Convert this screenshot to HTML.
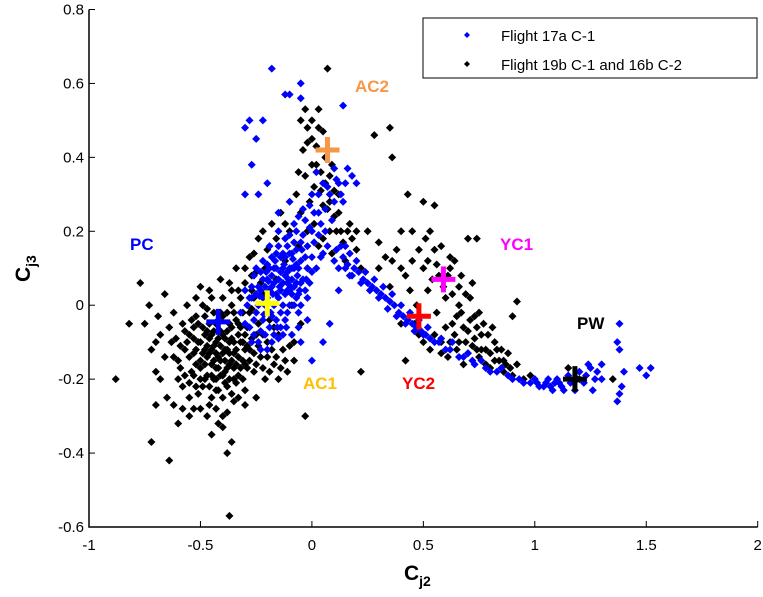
<!DOCTYPE html>
<html><head><meta charset="utf-8"><style>
body{margin:0;background:#fff;}
svg{display:block;font-family:"Liberation Sans",sans-serif;}
</style></head><body>
<svg id="chart" width="763" height="597" viewBox="0 0 763 597">
<g id="axes"></g>
<g id="marks"></g>
<g id="centers"></g>
<g id="labels"></g>
<g>
<rect x="423" y="18" width="334" height="60" fill="#fff" stroke="#000" stroke-width="1"/>
<path d="M467 32 l3 3 l-3 3 l-3 -3z" fill="#0000ff"/>
<text x="501" y="41" font-size="15">Flight 17a C-1</text>
<path d="M467 61 l3 3 l-3 3 l-3 -3z" fill="#000"/>
<text x="501" y="70" font-size="15">Flight 19b C-1 and 16b C-2</text>
</g>
<text x="404" y="580" font-size="21" font-weight="bold">C<tspan font-size="14" dy="6">j2</tspan></text>
<g transform="translate(30,282) rotate(-90)"><text x="0" y="0" font-size="21" font-weight="bold">C<tspan font-size="14" dy="6">j3</tspan></text></g>
</svg>
<script>
const xTicks=[-1,-0.5,0,0.5,1,1.5,2];
const xTickLabels=["-1","-0.5","0","0.5","1","1.5","2"];
const yTicks=[-0.6,-0.4,-0.2,0,0.2,0.4,0.6,0.8];
const yTickLabels=["-0.6","-0.4","-0.2","0","0.2","0.4","0.6","0.8"];
const blackPts=[[-0.75,-0.05],[-0.72,-0.12],[-0.7,-0.18],[-0.68,-0.08],[-0.66,0.03],[-0.65,-0.25],[-0.63,-0.1],[-0.62,-0.02],[-0.6,-0.15],[-0.6,-0.2],[-0.58,-0.05],[-0.57,-0.12],[-0.56,0.0],[-0.55,-0.25],[-0.55,-0.08],[-0.54,-0.18],[-0.53,-0.13],[-0.52,-0.03],[-0.52,-0.22],[-0.51,-0.1],[-0.5,-0.15],[-0.5,0.05],[-0.49,-0.06],[-0.48,-0.2],[-0.48,-0.12],[-0.47,-0.01],[-0.46,-0.27],[-0.46,-0.09],[-0.45,-0.16],[-0.45,0.02],[-0.44,-0.11],[-0.43,-0.23],[-0.43,-0.05],[-0.42,-0.14],[-0.41,0.07],[-0.41,-0.19],[-0.4,-0.08],[-0.4,-0.3],[-0.39,-0.12],[-0.38,-0.02],[-0.38,-0.22],[-0.37,-0.16],[-0.36,0.04],[-0.36,-0.09],[-0.35,-0.26],[-0.35,-0.13],[-0.34,0.1],[-0.34,-0.04],[-0.33,-0.19],[-0.32,-0.1],[-0.32,0.02],[-0.31,-0.15],[-0.3,0.06],[-0.3,-0.23],[-0.29,-0.06],[-0.28,0.13],[-0.28,-0.12],[-0.27,-0.01],[-0.26,-0.18],[-0.25,0.09],[-0.25,-0.08],[-0.24,0.18],[-0.23,-0.14],[-0.22,0.03],[-0.21,-0.2],[-0.2,-0.1],[-0.2,0.15],[-0.19,-0.04],[-0.18,0.22],[-0.17,-0.16],[-0.16,0.07],[-0.15,-0.08],[-0.14,0.25],[-0.13,-0.12],[-0.12,0.12],[-0.11,-0.18],[-0.1,0.2],[-0.09,0.0],[-0.08,-0.1],[-0.07,0.3],[-0.06,0.16],[-0.05,-0.05],[-0.04,0.42],[-0.03,0.35],[-0.02,0.1],[-0.01,0.28],[0.0,0.45],[0.01,0.22],[0.02,0.38],[0.03,0.48],[0.04,0.31],[0.05,0.18],[0.06,0.4],[0.07,0.26],[0.08,0.35],[0.09,0.14],[0.1,0.24],[0.12,0.3],[0.13,0.2],[0.15,0.12],[0.17,0.22],[0.2,0.15],[0.22,0.1],[0.25,0.2],
[-0.88,-0.2],[-0.82,-0.05],[-0.77,0.06],[-0.72,-0.37],[-0.7,-0.27],[-0.64,-0.42],[-0.37,-0.57],[-0.36,-0.37],[-0.38,-0.4],[-0.4,-0.33],[-0.5,-0.28],[-0.55,-0.3],[-0.6,-0.32],[-0.3,-0.27],[-0.25,-0.25],[-0.15,-0.2],[-0.03,-0.3],[0.07,0.64],[-0.03,0.53],[-0.05,0.5],[0.28,0.46],[0.35,0.48],[0.36,0.4],[0.22,-0.18],[0.42,-0.15],[0.43,0.3],[0.5,0.28],[0.55,0.27],[0.92,0.01],[0.9,-0.03],[0.4,0.2],[0.45,0.2],[0.3,0.17],
[-0.62,-0.14],[-0.58,-0.22],[-0.56,-0.1],[-0.53,-0.06],[-0.5,-0.2],[-0.47,-0.14],[-0.44,-0.2],[-0.42,-0.09],[-0.39,-0.18],[-0.37,-0.05],[-0.35,-0.2],[-0.33,-0.08],[-0.31,-0.02],[-0.29,-0.17],[-0.27,0.04],[-0.4,-0.25],[-0.45,-0.25],[-0.48,-0.03],[-0.52,-0.16],[-0.36,0.0],[-0.3,-0.12],[-0.43,-0.17],[-0.47,-0.07],[-0.41,-0.02],[-0.34,-0.16],
[-0.64,-0.06],[-0.61,-0.09],[-0.59,-0.11],[-0.59,-0.17],[-0.57,-0.19],[-0.57,-0.07],[-0.55,-0.14],[-0.55,-0.21],[-0.54,-0.04],[-0.53,-0.09],[-0.53,-0.19],[-0.52,-0.12],[-0.51,-0.24],[-0.51,-0.05],[-0.5,-0.1],[-0.5,-0.17],[-0.49,-0.13],[-0.49,-0.22],[-0.49,0.0],[-0.48,-0.08],[-0.48,-0.16],[-0.47,-0.11],[-0.47,-0.19],[-0.46,-0.05],[-0.46,-0.13],[-0.46,-0.22],[-0.45,-0.08],[-0.45,-0.12],[-0.45,-0.19],[-0.44,-0.02],[-0.44,-0.15],[-0.44,-0.07],[-0.43,-0.1],[-0.43,-0.2],[-0.43,-0.13],[-0.42,-0.17],[-0.42,-0.04],[-0.42,-0.23],[-0.41,-0.11],[-0.41,-0.15],[-0.41,-0.07],[-0.4,-0.13],[-0.4,-0.19],[-0.4,-0.03],[-0.39,-0.09],[-0.39,-0.15],[-0.39,-0.21],[-0.38,-0.12],[-0.38,-0.07],[-0.38,-0.17],[-0.37,-0.1],[-0.37,-0.2],[-0.37,-0.13],[-0.36,-0.15],[-0.36,-0.06],[-0.36,-0.24],[-0.35,-0.1],[-0.35,-0.02],[-0.35,-0.17],[-0.34,-0.12],[-0.34,-0.21],[-0.33,-0.05],[-0.33,-0.14],[-0.32,-0.17],[-0.32,-0.06],[-0.31,-0.1],[-0.31,-0.2],[-0.3,-0.08],[-0.3,-0.16],[-0.29,-0.11],[-0.28,-0.02],[-0.28,-0.15],[-0.27,-0.09],[-0.27,0.08],[-0.26,-0.13],[-0.26,0.02],[-0.25,-0.16],[-0.24,-0.05],[-0.24,-0.11],[-0.23,0.06],[-0.22,-0.17],[-0.22,-0.08],[-0.21,0.1],[-0.2,-0.14],[-0.19,-0.18],[-0.18,-0.12],[-0.17,-0.06],[-0.16,-0.14],[-0.14,-0.17],[-0.12,-0.15],[-0.1,-0.11],[-0.08,-0.15],[-0.66,-0.14],[-0.68,-0.2],[-0.69,-0.03],[-0.7,-0.1],[-0.73,0.0],[-0.62,-0.27],[-0.58,-0.28],[-0.53,-0.28],[-0.47,-0.3],[-0.43,-0.28],[-0.38,-0.29],[-0.33,-0.25],[-0.42,-0.32],[-0.45,-0.35],[-0.52,0.02],[-0.46,0.04],[-0.4,0.02],[-0.37,0.06],[-0.33,0.04],[-0.3,0.1],[-0.26,0.14],[-0.22,0.2],[-0.16,0.18],[-0.12,0.22],
[-0.06,0.36],[-0.02,0.44],[0.0,0.38],[0.01,0.32],[0.02,0.43],[0.04,0.36],[0.05,0.27],[0.06,0.33],[0.08,0.28],[0.09,0.38],[0.1,0.31],[0.11,0.2],[0.12,0.25],[0.14,0.17],[0.16,0.2],[0.18,0.18],[0.2,0.2],[0.08,0.2],[0.03,0.16],[-0.02,0.2],[-0.05,0.25],[0.0,0.5],[0.05,0.47],[-0.02,0.48],[0.03,0.53],
[0.3,0.1],[0.35,0.05],[0.38,0.15],[0.4,-0.05],[0.42,0.08],[0.45,0.12],[0.47,0.0],[0.48,-0.08],[0.5,0.1],[0.52,0.04],[0.53,-0.12],[0.55,0.15],[0.56,-0.02],[0.57,0.08],[0.58,-0.1],[0.6,0.02],[0.61,-0.14],[0.62,0.1],[0.63,-0.05],[0.65,-0.12],[0.66,0.05],[0.67,-0.02],[0.68,-0.16],[0.7,-0.07],[0.71,0.02],[0.72,-0.11],[0.73,-0.03],[0.75,-0.14],[0.76,-0.08],[0.78,-0.12],[0.8,-0.17],[0.82,-0.1],[0.84,-0.15],[0.86,-0.18],[0.88,-0.13],[0.9,-0.19],[0.92,-0.16],[0.95,-0.2],[0.98,-0.19],[1.15,-0.17],[1.2,-0.2],[1.35,-0.2],[0.58,0.16],[0.62,0.13],[0.7,0.18],[0.74,0.18],[0.64,-0.08],[0.69,-0.1],[0.74,-0.06],[0.6,-0.06],[0.66,0.0],
[0.52,0.12],[0.54,0.07],[0.56,0.11],[0.59,0.05],[0.61,0.08],[0.63,0.03],[0.64,0.12],[0.65,-0.03],[0.67,0.08],[0.68,-0.06],[0.69,0.03],[0.7,-0.13],[0.71,-0.04],[0.72,0.06],[0.73,-0.09],[0.74,-0.12],[0.75,-0.02],[0.76,-0.12],[0.77,-0.05],[0.78,-0.16],[0.79,-0.08],[0.8,-0.13],[0.81,-0.06],[0.82,-0.15],[0.83,-0.12],[0.85,-0.12],[0.86,-0.15],[0.87,-0.16],[0.89,-0.17],[0.66,-0.1],[0.62,-0.1],[0.58,-0.13],[0.55,-0.08],[0.5,-0.1],[0.46,-0.05],[0.44,0.04],[0.4,0.1],[0.36,0.12],[0.33,0.13],[0.48,0.15],[0.51,0.18],[0.53,0.2]];
const bluePts=[[-0.3,-0.05],[-0.28,0.02],[-0.27,-0.1],[-0.26,0.08],[-0.25,-0.02],[-0.24,0.05],[-0.23,-0.07],[-0.22,0.12],[-0.21,0.0],[-0.2,-0.12],[-0.2,0.07],[-0.19,0.16],[-0.18,-0.03],[-0.17,0.1],[-0.16,0.03],[-0.15,-0.09],[-0.15,0.2],[-0.14,0.13],[-0.13,0.06],[-0.12,-0.04],[-0.12,0.18],[-0.11,0.09],[-0.1,0.0],[-0.1,0.14],[-0.09,-0.08],[-0.08,0.05],[-0.08,0.22],[-0.07,0.11],[-0.06,-0.02],[-0.05,0.17],[-0.05,0.06],[-0.04,0.26],[-0.03,0.13],[-0.02,0.02],[-0.01,0.21],[0.0,0.3],[0.0,0.09],[0.01,0.17],[0.02,0.36],[0.03,0.25],[0.04,0.13],[0.05,0.33],[0.06,0.2],[0.08,0.3],[0.1,0.37],[0.12,0.33],[0.14,0.28],[0.18,0.35],[0.2,0.33],
[-0.3,0.48],[-0.28,0.5],[-0.25,0.45],[-0.22,0.5],[-0.27,0.38],[-0.24,0.3],[-0.2,0.33],[-0.3,0.3],[-0.18,0.64],[-0.12,0.57],[-0.1,0.57],[-0.05,0.6],[-0.05,0.56],[0.14,0.54],[-0.15,0.25],[-0.1,0.28],
[-0.26,-0.04],[-0.22,0.02],[-0.18,0.05],[-0.14,-0.02],[-0.11,0.04],[-0.07,0.02],[-0.17,-0.08],[-0.13,0.1],[-0.09,0.1],[-0.19,0.1],[-0.23,0.09],[-0.16,0.14],
[-0.29,0.0],[-0.28,-0.06],[-0.27,0.05],[-0.26,-0.08],[-0.25,0.03],[-0.24,-0.1],[-0.24,0.0],[-0.23,0.04],[-0.22,-0.04],[-0.22,0.07],[-0.21,0.05],[-0.21,-0.08],[-0.2,0.02],[-0.2,0.11],[-0.19,-0.06],[-0.19,0.04],[-0.18,0.08],[-0.18,0.13],[-0.17,0.0],[-0.17,0.06],[-0.16,-0.04],[-0.16,0.1],[-0.15,0.02],[-0.15,0.07],[-0.15,0.16],[-0.14,-0.06],[-0.14,0.04],[-0.14,0.09],[-0.13,0.0],[-0.13,0.14],[-0.12,0.03],[-0.12,0.08],[-0.12,0.13],[-0.11,-0.02],[-0.11,0.06],[-0.11,0.16],[-0.1,0.04],[-0.1,0.1],[-0.1,0.19],[-0.09,0.03],[-0.09,0.07],[-0.09,0.14],[-0.08,0.0],[-0.08,0.1],[-0.08,0.17],[-0.07,0.06],[-0.07,0.15],[-0.07,0.2],[-0.06,0.03],[-0.06,0.1],[-0.06,0.24],[-0.05,0.0],[-0.05,0.12],[-0.04,0.07],[-0.04,0.19],[-0.03,0.04],[-0.03,0.23],[-0.02,0.1],[-0.02,0.16],[-0.01,0.06],[-0.01,0.27],[0.0,0.13],[0.0,0.2],[0.01,0.25],[0.02,0.1],[0.03,0.19],[0.03,0.3],[0.04,0.22],[0.05,0.14],[0.06,0.26],[0.07,0.32],[0.07,0.16],[0.09,0.23],[0.1,0.28],[0.11,0.34],[0.13,0.3],[0.15,0.33],[0.16,0.37],[-0.27,0.02],[-0.3,0.04],[-0.32,-0.02],[-0.25,0.1],[-0.23,-0.12],[-0.18,-0.1],[-0.13,-0.08],[-0.06,-0.06],[-0.02,-0.04],
[-0.235,0.025],[-0.215,-0.025],[-0.195,0.065],[-0.175,0.03],[-0.165,0.12],[-0.145,0.05],[-0.125,0.11],[-0.105,0.07],[-0.085,0.125],[-0.065,0.08],[-0.045,0.15],[-0.025,0.07],[-0.205,0.09],[-0.185,-0.02],[-0.155,-0.06],[-0.115,-0.06],[-0.095,0.05],[-0.055,0.04],
[0.1,0.12],[0.13,0.16],[0.15,0.1],[0.17,0.14],[0.18,0.08],[0.2,0.12],[0.22,0.06],[0.24,0.09],[0.26,0.04],[0.28,0.07],[0.3,0.02],[0.32,0.05],[0.34,-0.01],[0.36,0.03],[0.38,-0.03],[0.4,0.0],[0.42,-0.05],[0.44,-0.02],[0.46,-0.07],[0.48,-0.04],[0.5,-0.08],[0.52,-0.06],[0.55,-0.1],[0.58,-0.09],[0.6,-0.12],[0.63,-0.1],[0.66,-0.14],[0.7,-0.13],[0.73,-0.16],[0.76,-0.15],[0.8,-0.18],[0.85,-0.17],[0.9,-0.2],[0.95,-0.21],[1.0,-0.2],[1.02,-0.22],[1.05,-0.21],[1.08,-0.23],[1.1,-0.2],[1.12,-0.22],[1.15,-0.19],[1.18,-0.23],[1.2,-0.18],[1.22,-0.21],[1.25,-0.17],[1.27,-0.2],[1.3,-0.16],[1.38,-0.05],[1.37,-0.1],[1.38,-0.12],[1.4,-0.18],[1.39,-0.22],[1.38,-0.24],[1.37,-0.26],[1.47,-0.17],[1.52,-0.17],[1.5,-0.19],[0.12,0.04],[0.08,-0.05],[0.05,-0.1],[0.0,-0.15],[-0.05,-0.1],
[0.11,0.15],[0.12,0.1],[0.14,0.13],[0.15,0.16],[0.16,0.11],[0.17,0.08],[0.19,0.1],[0.21,0.09],[0.23,0.07],[0.25,0.06],[0.27,0.05],[0.29,0.04],[0.31,0.03],[0.33,0.02],[0.35,0.01],[0.37,0.0],[0.39,-0.02],[0.41,-0.03],[0.43,-0.04],[0.45,-0.05],[0.47,-0.06],[0.49,-0.07],[0.51,-0.08],[0.53,-0.09],[0.57,-0.1],[0.62,-0.12],[0.68,-0.14],[0.72,-0.15],[0.78,-0.17],[0.83,-0.18],[0.88,-0.19],[0.93,-0.2],[0.98,-0.21],[1.01,-0.21],[1.04,-0.22],[1.06,-0.2],[1.07,-0.22],[1.09,-0.21],[1.11,-0.21],[1.13,-0.23],[1.16,-0.21],[1.19,-0.2],[1.23,-0.19],[1.26,-0.23],[1.24,-0.16],[1.28,-0.18],[1.3,-0.2]];
const centerNames=["PC","AC1","AC2","YC1","YC2","PW"];
const centerX=[-0.42,-0.2,0.07,0.59,0.48,1.18];
const centerY=[-0.045,0.005,0.42,0.07,-0.03,-0.2];
const centerColors=["#0000ff","#ffff00","#f79646","#ff00ff","#ff0000","#000000"];
const NS="http://www.w3.org/2000/svg";
const X0=89,X1=757.7,Y0=527,Y1=9.5;
function sx(v){return X0+(v+1)/3*(X1-X0);}
function sy(v){return Y0-(v+0.6)/1.4*(Y0-Y1);}
function mk(tag,attrs,parent){const e=document.createElementNS(NS,tag);for(const k in attrs)e.setAttribute(k,attrs[k]);parent.appendChild(e);return e;}
const axes=document.getElementById('axes');
let ax=mk('path',{d:`M${X0} ${Y1} V${Y0} H${X1}`,fill:'none',stroke:'#000','stroke-width':1.5},axes);


xTicks.forEach((v,i)=>{
 const t=mk('line',{x1:sx(v),x2:sx(v),y1:Y0,y2:Y0-6,stroke:'#000'},axes);
 
 
 const l=mk('text',{x:sx(v),y:Y0+23,'font-size':15,'text-anchor':'middle'},axes);
 l.textContent=xTickLabels[i];
 
 
});
yTicks.forEach((v,i)=>{
 const t=mk('line',{x1:X0,x2:X0+6,y1:sy(v),y2:sy(v),stroke:'#000'},axes);
 
 
 const l=mk('text',{x:X0-5,y:sy(v)+5,'font-size':15,'text-anchor':'end'},axes);
 l.textContent=yTickLabels[i];
 
 
});
const marks=document.getElementById('marks');
function dia(p,color,name){
 const x=sx(p[0]),y=sy(p[1]);
 const d=mk('path',{d:`M${x} ${y-4} l4 4 l-4 4 l-4 -4z`,fill:color},marks);
 
 
}
blackPts.forEach(p=>dia(p,'#000','point-flight-19b'));
bluePts.forEach(p=>dia(p,'#0000ff','point-flight-17a'));
const cg=document.getElementById('centers');
centerNames.forEach((n,i)=>{
 const x=sx(centerX[i]),y=sy(centerY[i]);
 const c=mk('path',{d:`M${x-12} ${y} H${x+12} M${x} ${y-13} V${y+13}`,stroke:centerColors[i],'stroke-width':5,fill:'none'},cg);
 
 
});
const labelText=["PC","AC1","AC2","YC1","YC2","PW"];
const labelColors=["#0000ff","#ffc000","#f79646","#ff00ff","#ff0000","#000000"];
const labelPos=[[130,250],[303,389],[355,92],[500,250],[402,389],[577,329]];
const lg=document.getElementById('labels');
labelText.forEach((t,i)=>{
 const e=mk('text',{x:labelPos[i][0],y:labelPos[i][1],fill:labelColors[i],'font-size':17,'font-weight':'bold'},lg);
 e.textContent=t;
 
 
});
</script>
</body></html>
